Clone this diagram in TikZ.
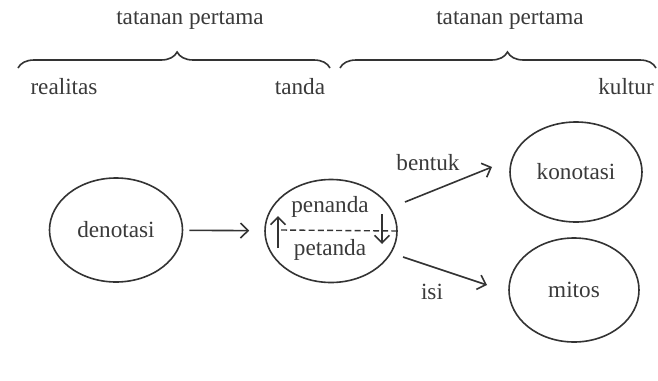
\documentclass[tikz,border=0pt]{standalone}
\usepackage{fontspec}
\setmainfont{Liberation Serif}
\usetikzlibrary{arrows.meta,decorations.pathreplacing,shapes.geometric}
\definecolor{ink}{HTML}{333333}
\definecolor{txt}{HTML}{3a3a3a}
\begin{document}
\begin{tikzpicture}[x=0.5pt,y=-0.5pt,
  every node/.style={text=txt,font=\fontsize{11.6}{13}\selectfont},
  oval/.style={draw=ink,line width=0.8pt,ellipse,inner sep=0pt,minimum width=66pt,minimum height=51pt},
  arr/.style={draw=ink,line width=0.8pt,-{Straight Barb[length=3.8pt,width=7.5pt]}},
  bracestyle/.style={draw=ink,line width=0.8pt,decorate},
  lbl/.style={inner sep=0pt}]
\useasboundingbox[fill=white] (0,0) rectangle (658,380);

% braces and labels on top
\draw[bracestyle,decoration={brace,amplitude=8pt,aspect=0.51}] (18,68) -- (330,68);
\draw[bracestyle,decoration={brace,amplitude=8pt,aspect=0.53}] (340,68) -- (656,68);
\node[lbl] (t1) at (190,20) {tatanan pertama};
\node[lbl] (t2) at (510,20) {tatanan pertama};
\node[lbl] (real) at (64,87) {realitas};
\node[lbl] (tanda) at (300,87) {tanda};
\node[lbl] (kult) at (626,87) {kultur};

% ellipses
\node[oval,minimum width=66.5pt,minimum height=52pt] (den) at (116,230) {denotasi};
\node[oval,minimum height=51.5pt] (mid) at (331,231) {};
\node[oval,minimum height=50pt] (kon) at (576,172) {konotasi};
\node[oval,minimum width=65pt,minimum height=52pt] (mit) at (574,290) {mitos};

% inside middle ellipse
\node[lbl] (pen) at (330,207) {penanda};
\node[lbl] (pet) at (330,250) {petanda};
\coordinate (dl) at (281,230);
\draw[ink,line width=0.7pt,dashed,dash pattern=on 3pt off 1.6pt] (dl) -- (mid.east);
\coordinate (u1) at (278,248);
\coordinate (u2) at (278,216);
\draw[arr] (u1) -- (u2);
\coordinate (d1) at (382,214);
\coordinate (d2) at (382,244);
\draw[arr] (d1) -- (d2);

% connectors
\draw[arr,shorten <=3pt,shorten >=7.5pt] (den) -- (mid);
\coordinate (b1) at (405,202);
\coordinate (b2) at (492,167);
\draw[arr] (b1) -- (b2);
\coordinate (i1) at (403,257);
\coordinate (i2) at (487,285);
\draw[arr] (i1) -- (i2);
\node[lbl] (bent) at (428,163) {bentuk};
\node[lbl] (isi) at (432,292) {isi};
\end{tikzpicture}
\end{document}
